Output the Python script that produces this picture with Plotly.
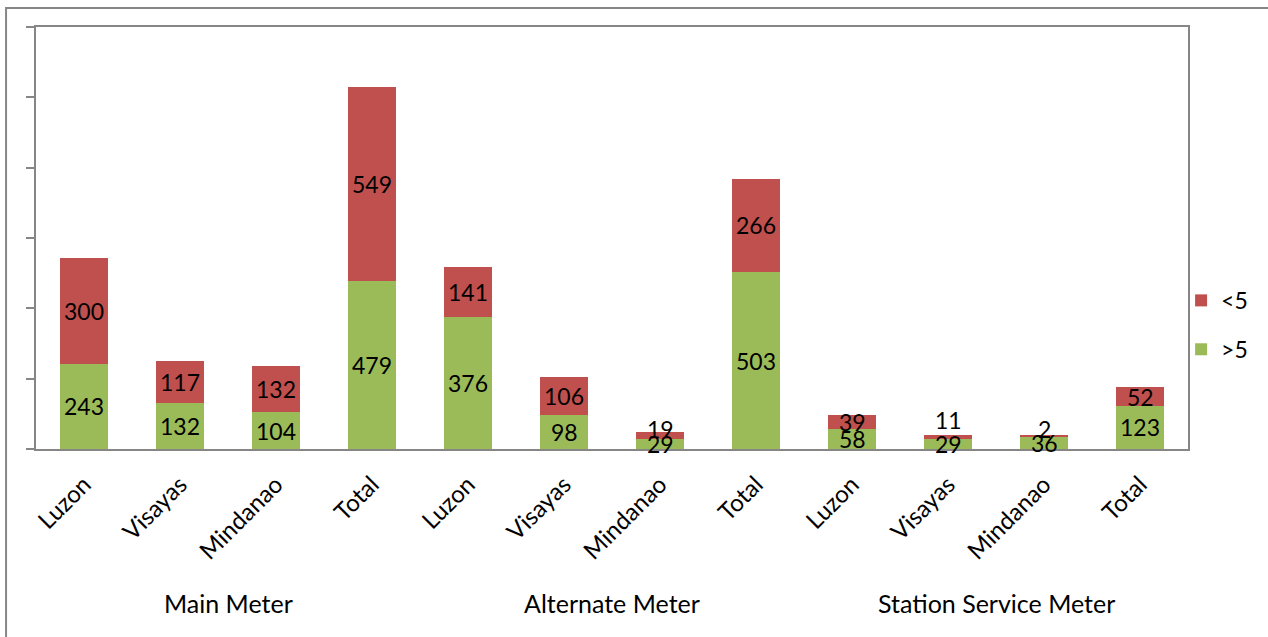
import plotly.graph_objects as go

categories = ["Luzon", "Visayas", "Mindanao", "Total",
              "Luzon", "Visayas", "Mindanao", "Total",
              "Luzon", "Visayas", "Mindanao", "Total"]
groups = ["Main Meter", "Alternate Meter", "Station Service Meter"]
gt5 = [243, 132, 104, 479, 376, 98, 29, 503, 58, 29, 36, 123]
lt5 = [300, 117, 132, 549, 141, 106, 19, 266, 39, 11, 2, 52]

RED = "#C0504D"
GREEN = "#9BBB59"
GRID = "#868686"
FONT = "Lato"

xs = list(range(len(categories)))

fig = go.Figure()
fig.add_trace(go.Bar(x=xs, y=gt5, name=">5", marker=dict(color=GREEN, line=dict(width=0)),
                     legendgroup="b", legendrank=2, hoverinfo="y"))
fig.add_trace(go.Bar(x=xs, y=lt5, name="<5", marker=dict(color=RED, line=dict(width=0)),
                     legendgroup="a", legendrank=1, hoverinfo="y"))

# data labels centred in each segment (small ones nudged up to avoid overlap)
label_shift = {6: 6, 9: 17, 10: 7}
annotations = []
for i in xs:
    annotations.append(dict(x=i, y=gt5[i] / 2, xref="x", yref="y", text=str(gt5[i]),
                            showarrow=False, font=dict(size=23, color="black", family=FONT)))
    annotations.append(dict(x=i, y=gt5[i] + lt5[i] / 2, xref="x", yref="y", text=str(lt5[i]),
                            showarrow=False, yshift=label_shift.get(i, 0),
                            font=dict(size=23, color="black", family=FONT)))
for g, name in enumerate(groups):
    annotations.append(dict(x=g * 4 + 1.5, y=-0.365, xref="x", yref="paper", text=name,
                            showarrow=False, yanchor="middle",
                            font=dict(size=25, color="black", family=FONT)))

fig.update_layout(
    width=1268, height=637,
    margin=dict(l=36, r=80, t=27, b=188, autoexpand=False),
    barmode="stack", bargap=0.5,
    paper_bgcolor="white", plot_bgcolor="white",
    font=dict(family=FONT, size=22, color="black"),
    showlegend=True,
    legend=dict(x=0.994, xanchor="left", y=0.294, yanchor="middle",
                traceorder="grouped", tracegroupgap=16,
                itemwidth=30, bgcolor="rgba(0,0,0,0)",
                font=dict(size=23, family=FONT, color="black")),
    annotations=annotations,
    shapes=[dict(type="rect", xref="paper", yref="paper",
                 x0=-0.026, x1=1.3, y0=-0.6, y1=1.045,
                 line=dict(color=GRID, width=2), layer="below")],
)
fig.update_xaxes(
    range=[-0.5, 11.5], tickmode="array", tickvals=xs, ticktext=categories,
    tickangle=-45, showgrid=False, zeroline=False,
    showline=True, linecolor=GRID, linewidth=2, mirror=True, ticks="",
    ticklabelstandoff=10,
    tickfont=dict(size=24, family=FONT, color="black"),
)
fig.update_yaxes(
    range=[0, 1200], dtick=200, tick0=0, showticklabels=False, showgrid=False,
    zeroline=False, showline=True, linecolor=GRID, linewidth=2, mirror=True,
    ticks="outside", ticklen=8, tickcolor=GRID, tickwidth=2,
)

fig.write_html("out.html", config={"displayModeBar": False},
               post_script="document.body.style.margin='0';document.body.style.overflow='hidden';")
